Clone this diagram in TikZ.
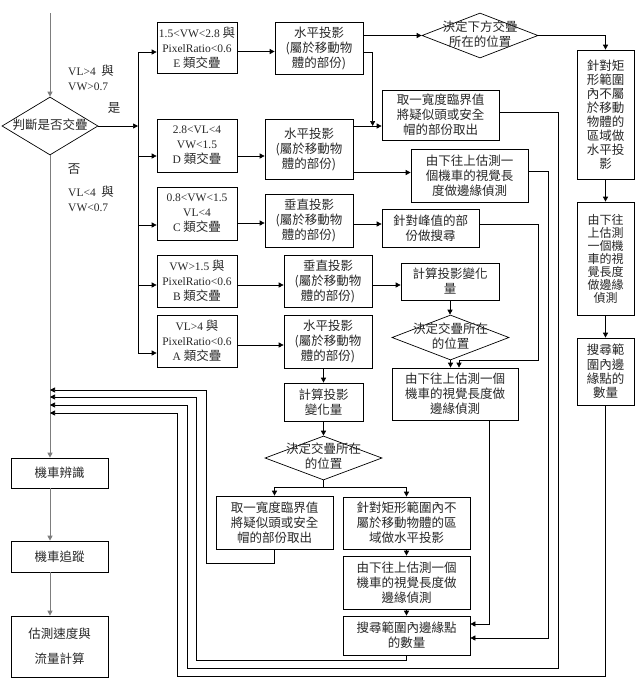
\documentclass[tikz,border=0pt]{standalone}
\usepackage{fontspec}
\setmainfont{Noto Sans CJK TC}
\newfontfamily\enfont{Liberation Serif}
\usepackage{tikz}
\usetikzlibrary{shapes.geometric, arrows.meta, positioning, calc}
\definecolor{mytext}{RGB}{40,40,40}
\definecolor{mygrayline}{RGB}{125,125,125}
\newcommand{\fz}{\fontsize{12.5pt}{15pt}\selectfont}
\newcommand{\entxt}[1]{{\enfont\fontsize{11.5pt}{15pt}\selectfont #1}}
\newcommand{\dtxt}[1]{\makebox[0pt]{\smash{\raisebox{-3pt}{\begin{tabular}{@{}c@{}}#1\end{tabular}}}}}
\tikzset{
  block/.style={rectangle, draw=black, fill=white, line width=0.7pt,
    align=center, inner sep=1pt, font=\fz, text=mytext},
  decide/.style={diamond, draw=black, fill=white, line width=0.7pt,
    inner sep=0pt, font=\fz, text=mytext},
  cond/.style={inner sep=0pt, align=left, font=\fz, text=mytext},
  tip/.style={-{Triangle[length=5pt, width=5pt]}},
  arrow/.style={tip, line width=0.7pt, color=black},
  line/.style={line width=0.7pt, color=black},
  mainline/.style={line width=1pt, color=mygrayline}
}

\begin{document}
\begin{tikzpicture}[x=1pt, y=-1pt]
  \useasboundingbox (0,0) rectangle (635,686);

  % Main line
  \coordinate (start) at (50,13);
  \node[decide, minimum width=96pt, minimum height=58pt] (ovl) at (50,126) {\dtxt{判斷是否交疊}};
  \node[block, minimum width=97pt, minimum height=30pt] (rec) at (59.5,473) {機車辨識};
  \node[block, minimum width=97pt, minimum height=31pt] (trk) at (59.5,556.5) {機車追蹤};
  \node[block, minimum width=97pt, minimum height=61pt] (est) at (59.5,646.5) {估測速度與\\[10pt]流量計算};

  % Conditions
  \node[cond, anchor=west] (yescnd) at (68,77.5) {\entxt{VL>4} \ 與\\\entxt{VW>0.7}};
  \node[cond] (yestag) at (114,108) {是};
  \node[cond] (notag) at (74,169) {否};
  \node[cond, anchor=west] (nocnd) at (68,198.5) {\entxt{VL<4} \ 與\\\entxt{VW<0.7}};

  % Overlap classes
  \node[block, minimum width=80pt, minimum height=51pt] (clsE) at (197,47.5) {\entxt{1.5<VW<2.8} 與\\\entxt{PixelRatio<0.6}\\\entxt{E} 類交疊};
  \node[block, minimum width=80pt, minimum height=53pt] (clsD) at (197,145.5) {\entxt{2.8<VL<4}\\\entxt{VW<1.5}\\\entxt{D} 類交疊};
  \node[block, minimum width=80pt, minimum height=53pt] (clsC) at (197,213.5) {\entxt{0.8<VW<1.5}\\\entxt{VL<4}\\\entxt{C} 類交疊};
  \node[block, minimum width=80pt, minimum height=52pt] (clsB) at (197,281) {\entxt{VW>1.5} 與\\\entxt{PixelRatio<0.6}\\\entxt{B} 類交疊};
  \node[block, minimum width=80pt, minimum height=52pt] (clsA) at (197,341) {\entxt{VL>4} 與\\\entxt{PixelRatio<0.6}\\\entxt{A} 類交疊};

  % Projections
  \node[block, minimum width=88pt, minimum height=52pt] (projE) at (319,48) {水平投影\\(屬於移動物\\體的部份)};
  \node[block, minimum width=88pt, minimum height=60pt] (projD) at (309,149) {水平投影\\(屬於移動物\\體的部份)};
  \node[block, minimum width=88pt, minimum height=53pt] (projC) at (309,220.5) {垂直投影\\(屬於移動物\\體的部份)};
  \node[block, minimum width=88pt, minimum height=52pt] (projB) at (328,281) {垂直投影\\(屬於移動物\\體的部份)};
  \node[block, minimum width=88pt, minimum height=53pt] (projA) at (328,341.5) {水平投影\\(屬於移動物\\體的部份)};

  % E class
  \node[decide, minimum width=116pt, minimum height=45pt] (dE) at (480,35.5) {\dtxt{決定下方交疊\\所在的位置}};
  \node[block, minimum width=57pt, minimum height=129pt, font=\fontsize{12.5pt}{14pt}\selectfont] (rA) at (605.5,114.5) {針對矩\\形範圍\\內不屬\\於移動\\物體的\\區域做\\水平投\\影};
  \node[block, minimum width=57pt, minimum height=113pt, font=\fontsize{12pt}{13pt}\selectfont] (rB) at (605.5,258.5) {由下往\\上估測\\一個機\\車的視\\覺長度\\做邊緣\\偵測};
  \node[block, minimum width=57pt, minimum height=67pt, font=\fontsize{12.5pt}{14.3pt}\selectfont] (rC) at (605.5,371.5) {搜尋範\\圍內邊\\緣點的\\數量};

  % D class
  \node[block, minimum width=117pt, minimum height=50pt] (tD) at (440.5,115) {取一寬度臨界值\\將疑似頭或安全\\帽的部份取出};
  \node[block, minimum width=117pt, minimum height=53pt] (eD) at (469.5,175.5) {由下往上估測一\\個機車的視覺長\\度做邊緣偵測};

  % C and B classes
  \node[block, minimum width=97pt, minimum height=38pt] (sC) at (430.5,228) {針對峰值的部\\份做搜尋};
  \node[block, minimum width=98pt, minimum height=37pt] (vB) at (450,281.5) {計算投影變化\\量};
  \node[decide, minimum width=117pt, minimum height=45pt] (dB) at (450.5,337.5) {\dtxt{決定交疊所在\\的位置}};
  \node[block, minimum width=126pt, minimum height=52pt] (eB) at (455,394) {由下往上估測一個\\機車的視覺長度做\\邊緣偵測};

  % A class
  \node[block, minimum width=79pt, minimum height=38pt] (vA) at (323.5,402) {計算投影\\變化量};
  \node[decide, minimum width=117pt, minimum height=44pt] (dA) at (323.5,458) {\dtxt{決定交疊所在\\的位置}};
  \node[block, minimum width=117pt, minimum height=53pt] (tA) at (274.5,522.5) {取一寬度臨界值\\將疑似頭或安全\\帽的部份取出};
  \node[block, minimum width=127pt, minimum height=52pt] (hA) at (406.5,523) {針對矩形範圍內不\\屬於移動物體的區\\域做水平投影};
  \node[block, minimum width=127pt, minimum height=53pt] (eA) at (406.5,582.5) {由下往上估測一個\\機車的視覺長度做\\邊緣偵測};
  \node[block, minimum width=127pt, minimum height=39pt] (sA) at (406.5,635.5) {搜尋範圍內邊緣點\\的數量};

  % Bends and return points
  \coordinate (bustop) at (138,52);
  \coordinate (busbot) at (138,353);
  \coordinate (back1) at (50,390);
  \coordinate (back2) at (50,397);
  \coordinate (back3) at (50,405);
  \coordinate (back4) at (50,413);
  \coordinate (b1) at (206,563);
  \coordinate (b2) at (196,660);
  \coordinate (b3) at (187,668);
  \coordinate (b4) at (177,676);
  \coordinate (tDdown) at (558,668);
  \coordinate (eDdown) at (548,638);
  \coordinate (sCdown) at (538,360);
  \coordinate (eBdown) at (489,624);
  \coordinate (jnD) at ([xshift=-9pt, yshift=-11pt]tD.west);
  \coordinate (split) at ([yshift=-7pt]dA.south);

  % Main flow
  \draw[mainline, tip] (start) -- (ovl.north);
  \draw[mainline, tip] (ovl.south) -- (ovl.south |- rec.north);
  \draw[mainline, tip] (ovl.south |- rec.south) -- (ovl.south |- trk.north);
  \draw[mainline, tip] (ovl.south |- trk.south) -- (ovl.south |- est.north);

  % Bus to the classes
  \draw[arrow] (ovl.east) -- (ovl.east -| bustop);
  \draw[line] (bustop) -- (busbot);
  \draw[arrow] ([yshift=-4.5pt]clsE.west -| bustop) -- ([yshift=-4.5pt]clsE.west);
  \draw[arrow] ([yshift=-10.5pt]clsD.west -| bustop) -- ([yshift=-10.5pt]clsD.west);
  \draw[arrow] ([yshift=-11.5pt]clsC.west -| bustop) -- ([yshift=-11.5pt]clsC.west);
  \draw[arrow] ([yshift=-4pt]clsB.west -| bustop) -- ([yshift=-4pt]clsB.west);
  \draw[arrow] ([yshift=-12pt]clsA.west -| bustop) -- ([yshift=-12pt]clsA.west);

  % Classes to projections
  \draw[arrow] ([yshift=-4pt]clsE.east) -- ([yshift=-4pt]clsE.east -| projE.west);
  \draw[arrow] ([yshift=-10.5pt]clsD.east) -- ([yshift=-10.5pt]clsD.east -| projD.west);
  \draw[arrow] ([yshift=-9.5pt]clsC.east) -- ([yshift=-9.5pt]clsC.east -| projC.west);
  \draw[arrow] ([yshift=-4pt]clsB.east) -- ([yshift=-4pt]clsB.east -| projB.west);
  \draw[arrow] ([yshift=-4pt]clsA.east) -- ([yshift=-4pt]clsA.east -| projA.west);

  % E class
  \draw[arrow] (projE.east |- dE.west) -- (dE.west);
  \draw[arrow] ([yshift=-4pt]projE.east) -| (jnD);
  \draw[arrow] (dE.east) -| (rA.north);
  \draw[arrow] (rA.south) -- (rA.south |- rB.north);
  \draw[arrow] (rB.south) -- (rB.south |- rC.north);
  \draw[arrow] (rC.south) |- (b4) |- (back4);

  % D class
  \draw[arrow] (jnD -| projD.east) -- ([yshift=-11pt]tD.west);
  \draw[arrow] ([yshift=3pt]eD.west -| projD.east) -- ([yshift=3pt]eD.west);
  \draw[arrow] ([yshift=3pt]tD.east) -| (tDdown) -- (b3) |- (back3);
  \draw[arrow] ([yshift=4.5pt]eD.east) -| (eDdown) -- (eDdown -| sA.east);

  % C class
  \draw[arrow] ([yshift=-3.5pt]projC.east) -- ([yshift=-3.5pt]projC.east -| sC.west);
  \draw[arrow] ([yshift=4pt]sC.east) -| (sCdown) -| ([xshift=4pt]eB.north);

  % B class
  \draw[arrow] ([yshift=-4pt]projB.east) -- ([yshift=-4pt]projB.east -| vB.west);
  \draw[arrow] (vB.south) -- (vB.south |- dB.north);
  \draw[arrow] (dB.south) -- (dB.south |- eB.north);
  \draw[arrow] (eBdown |- eB.south) -- (eBdown) -- (eBdown -| sA.east);

  % A class
  \draw[arrow] (vA.north |- projA.south) -- (vA.north);
  \draw[arrow] (vA.south) -- (dA.north);
  \draw[line] (dA.south) -- (split);
  \draw[arrow] (split) -| (tA.north);
  \draw[arrow] (split) -| (hA.north);
  \draw[arrow] (hA.south) -- (eA.north);
  \draw[arrow] (eA.south) -- (sA.north);
  \draw[arrow] (tA.south) |- (b1) |- (back1);
  \draw[arrow] (sA.south) |- (b2) |- (back2);
\end{tikzpicture}
\end{document}
